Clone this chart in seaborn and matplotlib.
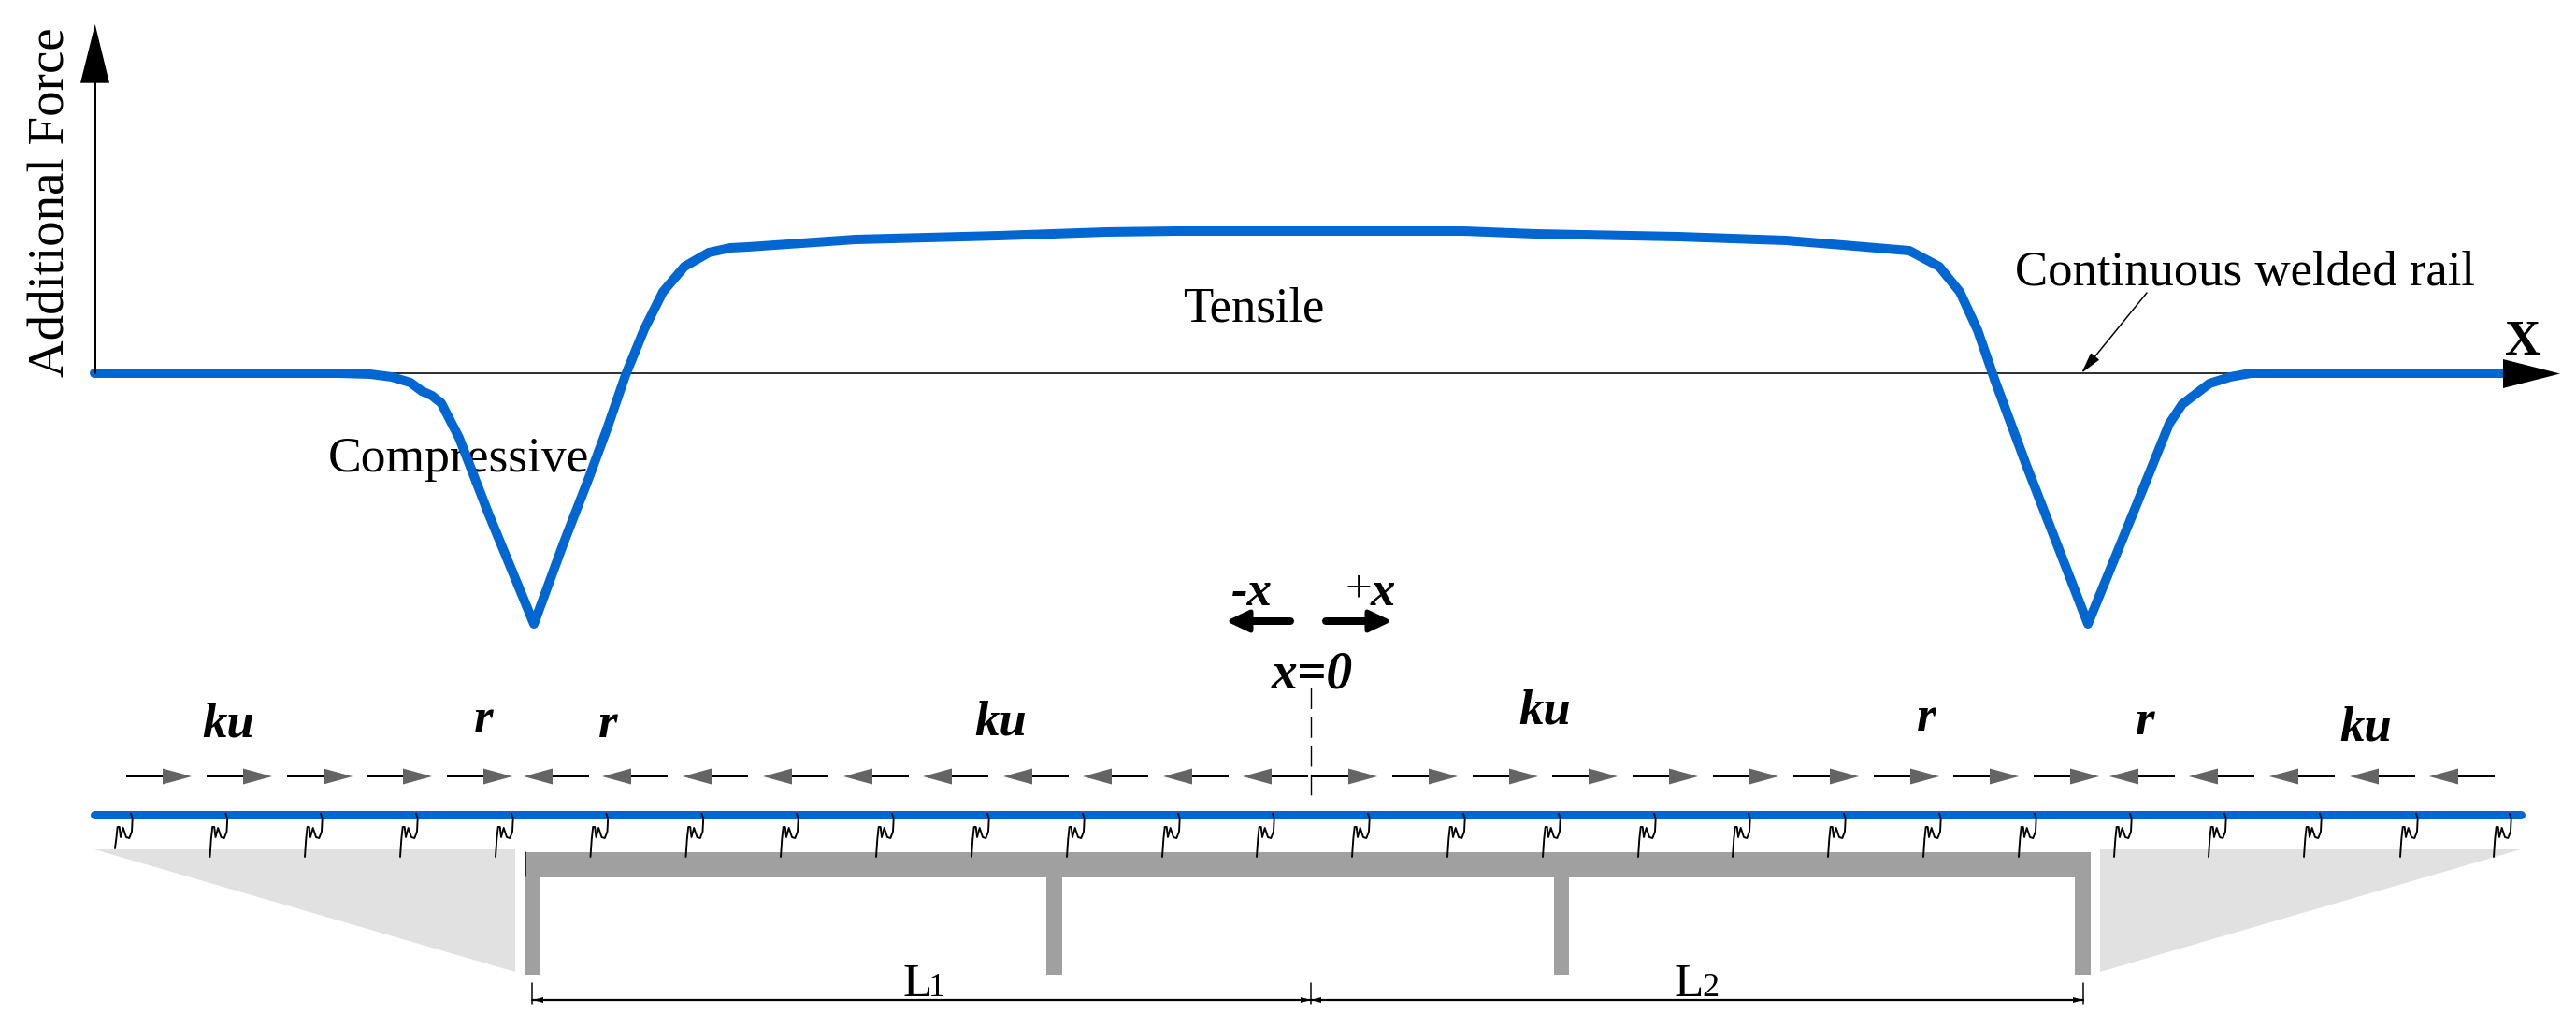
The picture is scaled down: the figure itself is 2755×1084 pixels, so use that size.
import numpy as np
import matplotlib
matplotlib.use("Agg")
import matplotlib.pyplot as plt
import seaborn as sns

# ---- force curve (image pixel scale) ----
curve_x = [101, 362, 396, 419, 439, 451, 462, 472, 491, 505, 522, 571, 603, 629, 649, 669, 689, 709,
           732, 758, 781, 800, 915, 1068, 1183, 1259, 1412, 1565, 1642, 1795, 1910, 1971, 2042, 2074,
           2096, 2115, 2134, 2167, 2233, 2282, 2320, 2334, 2363, 2385, 2407, 2680]
curve_y = [399, 399, 400, 403, 409, 418, 423, 431, 468, 504, 548, 667, 580, 513, 459, 401, 352, 312,
           285, 270, 265, 264, 256, 252, 248, 247, 247, 247, 250, 253, 257, 262, 268, 285,
           312, 353, 408, 497, 667, 547, 453, 432, 410, 403, 399, 399]

# ---- structure ----
load_right_tips = [205, 291, 377, 462, 548, 1473, 1559, 1645, 1730, 1816, 1902, 1988, 2074, 2159, 2245]
load_left_tips = [560, 644, 730, 816, 902, 987, 1073, 1158, 1244, 1329, 2256, 2341, 2427, 2513, 2598]
spring_x = [123, 224.5, 326, 428, 530, 631.5, 733.5, 835, 937, 1039, 1141, 1243, 1344, 1446, 1548,
            1650, 1752, 1853, 1955, 2057, 2159, 2261, 2362, 2464, 2567, 2667]
spring_dx = [0, 1.3, 2.7, 4.7, 6, 8.7, 12, 15.3, 18, 18.7, 17]
spring_dy = [0, -19, -32, -32, -21, -31, -21, -20, -27, -41, -46]
pier_left = [561, 1119, 1662, 2219]
pier_right = [578, 1136, 1678, 2236]
abutment_x = [[101, 551, 551], [2246, 2696, 2246]]
abutment_y = [[908, 908, 1039], [908, 908, 1039]]
label_text = ["ku", "r", "r", "ku", "ku", "r", "r", "ku"]
label_x = [216, 507, 640, 1042, 1624, 2050, 2284, 2502]
label_y = [788, 783, 788, 785, 774, 781, 785, 791]

BLUE = "#0066D2"
BLACK = "#000000"
PX = 72 / 100

sns.set_theme(style="white")
plt.rcParams["font.family"] = ["Liberation Serif", "DejaVu Serif"]

fig = plt.figure(figsize=(27.55, 10.84), dpi=100)
ax = fig.add_axes([0, 0, 1, 1])
ax.set_xlim(0, 2755)
ax.set_ylim(1084, 0)
ax.axis("off")

# axes of the chart
ax.plot([101.7, 101.7], [399, 85], color=BLACK, lw=2 * PX, zorder=6)
ax.fill([86, 117, 101.7], [88.7, 88.7, 26], color=BLACK, lw=0, zorder=4)
ax.plot([101.7, 2680], [399, 399], color=BLACK, lw=1.6 * PX, zorder=2)
ax.fill([2677, 2677, 2738], [384, 415, 399.5], color=BLACK, lw=0, zorder=6)

sns.lineplot(x=curve_x, y=curve_y, sort=False, estimator=None, color=BLUE, ax=ax,
             lw=10 * PX, zorder=5, solid_joinstyle="round", solid_capstyle="round", legend=False)

# chart text
ax.text(69, 403, "Additional Force", rotation=90, fontsize=39.5, ha="left", va="baseline",
        rotation_mode="anchor", color=BLACK, zorder=3)
ax.text(351, 504, "Compressive", fontsize=38.5, va="baseline", color=BLACK, zorder=3)
ax.text(1265, 344, "Tensile", fontsize=38, va="baseline", color=BLACK, zorder=3)
ax.text(2155, 305, "Continuous welded rail", fontsize=38, va="baseline", color=BLACK, zorder=3)
ax.text(2679, 379, "X", fontsize=38, fontweight="bold", va="baseline", color=BLACK, zorder=7)
ax.annotate("", xy=(2226, 399), xytext=(2296, 313), zorder=3,
            arrowprops=dict(arrowstyle="-|>,head_length=1.0,head_width=0.25", mutation_scale=14,
                            color=BLACK, lw=1.5 * PX, shrinkA=0, shrinkB=0))

# direction labels
ax.plot([1380, 1330], [664, 664], color=BLACK, lw=8 * PX, solid_capstyle="round", zorder=3)
ax.fill([1317, 1338, 1338], [664, 654, 674], color=BLACK, lw=5 * PX, joinstyle="round", zorder=3)
ax.plot([1418, 1470], [664, 664], color=BLACK, lw=8 * PX, solid_capstyle="round", zorder=3)
ax.fill([1483, 1462, 1462], [664, 654, 674], color=BLACK, lw=5 * PX, joinstyle="round", zorder=3)
bi = dict(fontsize=38, fontweight="bold", fontstyle="italic", va="baseline", color=BLACK)
ax.text(1317, 647, "-x", **bi)
ax.text(1439, 643, "+", fontsize=37, va="baseline", color=BLACK)
ax.text(1466, 647, "x", **bi)
ax.text(1360, 735, "x=0", **{**bi, "fontsize": 40})
for t, x, y in zip(label_text, label_x, label_y):
    ax.text(x, y, t, **bi)

# centre line
ax.plot([1402, 1402], [735, 856], color=BLACK, lw=1.4 * PX, ls=(0, (16, 6)), zorder=3)

# load arrows
for tips, sgn in [(load_right_tips, 1), (load_left_tips, -1)]:
    for tip in tips:
        base = tip - sgn * 31
        tail = tip - sgn * 70
        ax.plot([tail, base], [830, 830], color=BLACK, lw=2 * PX, solid_capstyle="butt", zorder=3)
        ax.fill([base, base, tip], [821.5, 838.5, 830], color="#646464", lw=0, zorder=4)

# abutments, deck, piers
for xs, ys in zip(abutment_x, abutment_y):
    ax.fill(xs, ys, color="#E1E1E1", lw=0, zorder=1)
ax.fill([561, 2236, 2236, 561], [910.5, 910.5, 938, 938], color="#A0A0A0", lw=0, zorder=1)
for a, b in zip(pier_left, pier_right):
    ax.fill([a, b, b, a], [930, 930, 1042, 1042], color="#A0A0A0", lw=0, zorder=1)
ax.plot([562, 562], [911, 937], color=BLACK, lw=1.5 * PX, zorder=2)

# rail
ax.plot([101, 2696], [870.5, 870.5], color=BLUE, lw=9 * PX, solid_capstyle="round", zorder=5)

# fasteners
for i, sx in enumerate(spring_x):
    dy = np.array(spring_dy, dtype=float)
    if i == 0:
        dy[0] = -9
    ax.plot(sx + np.array(spring_dx), 916 + dy, color=BLACK, lw=1.9 * PX, zorder=6)

# dimension line
ax.plot([569.5, 2228], [1069, 1069], color=BLACK, lw=2.2 * PX, zorder=3)
for x in [569.5, 1402, 2228]:
    ax.plot([x, x], [1051, 1073], color=BLACK, lw=1.5 * PX, zorder=3)
for a, b in [(570, 581), (1402, 1391), (1402, 1413), (2228, 2217)]:
    ax.fill([a, b, b], [1069, 1066, 1072], color=BLACK, lw=0, zorder=3)
ax.text(966, 1065, "L", fontsize=37, va="baseline", color=BLACK)
ax.text(993, 1065, "1", fontsize=26, va="baseline", color=BLACK)
ax.text(1791, 1065, "L", fontsize=37, va="baseline", color=BLACK)
ax.text(1820, 1065, "2", fontsize=26, va="baseline", color=BLACK)

fig.savefig("out.png", dpi=100, facecolor="white")
